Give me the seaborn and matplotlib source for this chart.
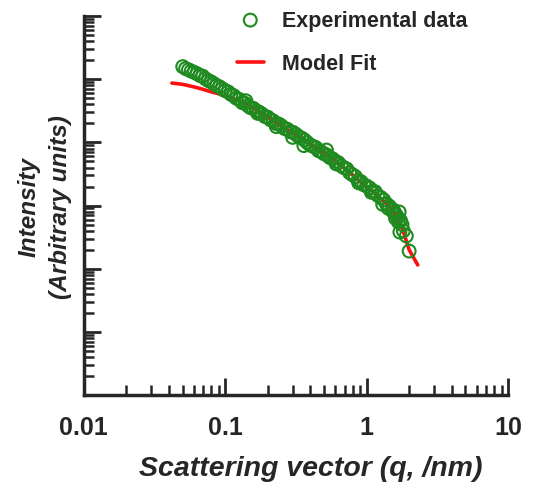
import matplotlib
matplotlib.use("agg")
import matplotlib.pyplot as plt
import matplotlib.ticker as mticker
import numpy as np
import pandas as pd
import seaborn as sns

# experimental SAXS points (q in 1/nm, log10 of intensity)
q_exp = [0.0501, 0.0525, 0.0550, 0.0575, 0.0603, 0.0631, 0.0661, 0.0692, 0.0724, 0.0759,
         0.0794, 0.0832, 0.0871, 0.0912, 0.0955, 0.100, 0.105, 0.110, 0.115, 0.120,
         0.126, 0.132, 0.138, 0.145, 0.151, 0.158, 0.166, 0.174, 0.182, 0.191,
         0.200, 0.209, 0.219, 0.229, 0.240, 0.251, 0.263, 0.275, 0.288, 0.302,
         0.316, 0.331, 0.347, 0.363, 0.380, 0.398, 0.417, 0.437, 0.457, 0.479,
         0.501, 0.525, 0.550, 0.575, 0.603, 0.631, 0.661, 0.692, 0.724, 0.759,
         0.794, 0.832, 0.871, 0.912, 0.955, 1.00, 1.05, 1.10, 1.15, 1.20,
         1.26, 1.32, 1.38, 1.45, 1.51, 1.58, 1.66, 1.74, 1.82, 1.91, 2.00,
         0.140, 0.170, 0.230, 0.300, 0.360, 0.520, 0.610, 0.880, 1.08, 1.30,
         1.42, 1.55, 1.62, 1.68, 1.72, 1.78, 1.60, 1.70]
logI_exp = [5.20, 5.17, 5.15, 5.13, 5.11, 5.09, 5.06, 5.05, 5.01, 4.98,
            4.96, 4.93, 4.90, 4.88, 4.85, 4.82, 4.80, 4.76, 4.74, 4.70,
            4.68, 4.63, 4.62, 4.58, 4.55, 4.54, 4.50, 4.48, 4.45, 4.41,
            4.40, 4.36, 4.34, 4.30, 4.29, 4.26, 4.22, 4.21, 4.17, 4.16,
            4.13, 4.09, 4.07, 4.04, 4.00, 3.96, 3.94, 3.92, 3.87, 3.85,
            3.82, 3.80, 3.76, 3.74, 3.70, 3.68, 3.63, 3.60, 3.58, 3.52,
            3.49, 3.46, 3.40, 3.38, 3.33, 3.31, 3.28, 3.23, 3.22, 3.16,
            3.13, 3.09, 3.03, 2.99, 2.92, 2.88, 2.81, 2.76, 2.60, 2.52, 2.28,
            4.66, 4.46, 4.25, 4.08, 3.95, 3.88, 3.66, 3.36, 3.21, 3.02,
            2.96, 2.93, 2.85, 2.74, 2.58, 2.70, 2.80, 2.90]

# model fit curve
q_fit = [0.042, 0.050, 0.060, 0.070, 0.080, 0.090, 0.100, 0.120, 0.140, 0.160,
         0.200, 0.250, 0.300, 0.400, 0.500, 0.600, 0.700, 0.800, 0.900, 1.00,
         1.20, 1.40, 1.60, 1.80, 2.00, 2.30]
logI_fit = [4.94, 4.92, 4.88, 4.84, 4.80, 4.77, 4.73, 4.68, 4.61, 4.54,
            4.40, 4.26, 4.15, 3.97, 3.83, 3.71, 3.59, 3.48, 3.38, 3.30,
            3.15, 3.02, 2.86, 2.62, 2.30, 2.06]

exp_df = pd.DataFrame({"q": q_exp, "I": 10 ** np.array(logI_exp)})
fit_df = pd.DataFrame({"q": q_fit, "I": 10 ** np.array(logI_fit)})

sns.set_style("ticks")
plt.rcParams['font.family'] = ['Liberation Sans', 'DejaVu Sans']
plt.rcParams['font.weight'] = 'bold'

fig = plt.figure(figsize=(5.37, 4.89), dpi=100)
ax = fig.add_axes([0.156, 0.190, 0.790, 0.775])

sns.lineplot(data=fit_df, x="q", y="I", ax=ax, color="#ff1010", lw=2.6,
             label="Model Fit", zorder=2, sort=False)
sns.scatterplot(data=exp_df, x="q", y="I", ax=ax, marker="o", s=85,
                facecolors="none", edgecolor="#1f8a1f", linewidth=1.5,
                label="Experimental data", zorder=3)

ax.set_xscale("log")
ax.set_yscale("log")
ax.set_xlim(0.01, 10)
ax.set_ylim(1, 1e6)

ax.xaxis.set_major_formatter(mticker.FuncFormatter(lambda v, p: f"{v:g}"))
ax.xaxis.set_minor_formatter(mticker.NullFormatter())
ax.yaxis.set_major_locator(mticker.LogLocator(base=10, numticks=10))
ax.yaxis.set_minor_locator(mticker.LogLocator(base=10, subs=np.arange(2, 10), numticks=20))
ax.yaxis.set_major_formatter(mticker.NullFormatter())
ax.yaxis.set_minor_formatter(mticker.NullFormatter())

ax.tick_params(which="major", direction="in", length=12, width=2, labelsize=18, pad=14)
ax.tick_params(which="minor", direction="in", length=7, width=1.8)
for lab in ax.get_xticklabels():
    lab.set_fontweight("bold")

sns.despine(ax=ax)
for s in ["left", "bottom"]:
    ax.spines[s].set_linewidth(2.5)

ax.set_xlabel("Scattering vector (q, /nm)", fontsize=20.5, fontweight="bold",
              fontstyle="italic")
ax.set_ylabel("Intensity\n(Arbitrary units)", fontsize=17.5, fontweight="bold",
              fontstyle="italic", linespacing=1.45)
ax.xaxis.set_label_coords(0.535, -0.158)
ax.yaxis.set_label_coords(-0.028, 0.5)

handles, labels = ax.get_legend_handles_labels()
order = [labels.index("Experimental data"), labels.index("Model Fit")]
leg = ax.legend([handles[i] for i in order], [labels[i] for i in order],
                loc="upper left", bbox_to_anchor=(0.441, 0.978),
                bbox_transform=fig.transFigure, frameon=False, borderpad=0,
                borderaxespad=0, fontsize=15.5, labelspacing=1.05,
                handlelength=1.25, handletextpad=0.85)
for t in leg.get_texts():
    t.set_fontweight("bold")

fig.savefig("out.png", dpi=100)
